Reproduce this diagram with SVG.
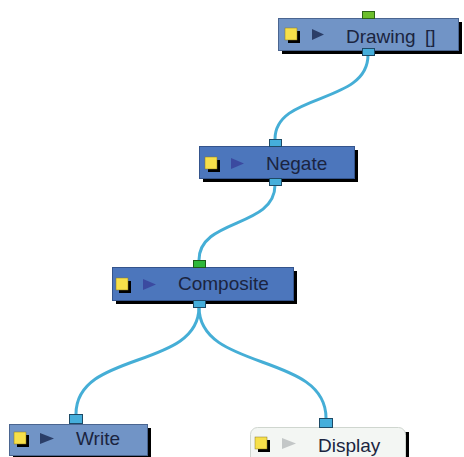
<svg xmlns="http://www.w3.org/2000/svg" width="464" height="457" viewBox="0 0 464 457">
<defs>
<style>
.sh{fill:#000}
.light{fill:#7194c6;stroke:#4a6590;stroke-width:1}
.dark{fill:#4c76bc;stroke:#34548c;stroke-width:1}
.disp{fill:#f3f6f3;stroke:#cfd6cf;stroke-width:1}
.ysh{fill:#000}
.ysq{fill:#f7e04a;stroke:#8a7a20;stroke-width:0.5}
.tri1{fill:#2b3e68}
.tri2{fill:#3b4aa0}
.tri3{fill:#c3c7c7}
.lbl{font-family:"Liberation Sans",Arial,sans-serif;font-size:19px;fill:#1b2440}
.pb{fill:#45aedb;stroke:#1d4a66;stroke-width:1}
.pg{fill:#6cbf2c;stroke:#2d6418;stroke-width:1}
.pg2{fill:#2fb83a;stroke:#1d5a18;stroke-width:1}
.wire{fill:none;stroke:#45aed6;stroke-width:3;stroke-linecap:round}
</style>
</defs>
<rect width="464" height="457" fill="#ffffff"/>
<g id="connectors">
<path class="wire" d="M368,55 C368,105 275,92 275,139"/>
<path class="wire" d="M275,185 C275,228 199,218 199,260"/>
<path class="wire" d="M199,307 C199,370 76,350 76,414"/>
<path class="wire" d="M199,307 C199,372 326,352 326,418"/>
</g>
<g id="node-drawing">
<rect class="sh" x="282" y="22" width="180" height="32"/>
<rect class="light" x="278.5" y="18.5" width="180" height="32"/>
<rect class="ysh" x="288" y="31" width="12" height="12"/>
<rect class="ysq" x="285" y="28" width="12" height="12"/>
<polygon class="tri1" points="312,29 324,34.5 312,40"/>
<text class="lbl" x="346" y="43" word-spacing="4">Drawing []</text>
<rect class="pg" x="362.5" y="11.5" width="12" height="7"/>
<rect class="pb" x="362.5" y="48.5" width="12" height="7"/>
</g>
<g id="node-negate">
<rect class="sh" x="203" y="150" width="155" height="32"/>
<rect class="dark" x="199.5" y="146.5" width="155" height="32"/>
<rect class="ysh" x="208" y="160" width="12" height="12"/>
<rect class="ysq" x="205" y="157" width="12" height="12"/>
<polygon class="tri2" points="231,158 244,163.5 231,169"/>
<text class="lbl" x="266" y="170">Negate</text>
<rect class="pb" x="269.5" y="139.5" width="12" height="7"/>
<rect class="pb" x="269.5" y="178.5" width="12" height="7"/>
</g>
<g id="node-composite">
<rect class="sh" x="116" y="271" width="181" height="33"/>
<rect class="dark" x="112.5" y="267.5" width="181" height="33"/>
<rect class="ysh" x="119" y="281" width="12" height="12"/>
<rect class="ysq" x="116" y="278" width="12" height="12"/>
<polygon class="tri2" points="143,279 156,284.5 143,290"/>
<text class="lbl" x="178" y="290">Composite</text>
<rect class="pg2" x="193.5" y="260.5" width="12" height="7"/>
<rect class="pb" x="193.5" y="300.5" width="12" height="7"/>
</g>
<g id="node-write">
<rect class="sh" x="13" y="428" width="138" height="30"/>
<rect class="light" x="9.5" y="424.5" width="138" height="31"/>
<rect class="ysh" x="17" y="435" width="12" height="12"/>
<rect class="ysq" x="14" y="432" width="12" height="12"/>
<polygon class="tri1" points="40,433 54,438.5 40,444"/>
<text class="lbl" x="76" y="445">Write</text>
<rect class="pb" x="69.5" y="414.5" width="13" height="9"/>
</g>
<g id="node-display">
<rect class="sh" x="404" y="432" width="5" height="30"/>
<rect class="disp" x="250.5" y="427.5" width="155" height="40" rx="7"/>
<rect class="ysh" x="258" y="440" width="12" height="12"/>
<rect class="ysq" x="255" y="437" width="12" height="12"/>
<polygon class="tri3" points="282,438 296,443.5 282,449"/>
<text class="lbl" x="318" y="452">Display</text>
<rect class="pb" x="319.5" y="418.5" width="13" height="9"/>
</g>
</svg>
